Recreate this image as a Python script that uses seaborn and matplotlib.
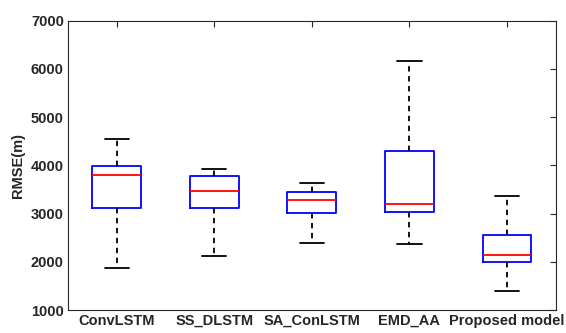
import matplotlib
matplotlib.use("Agg")
import matplotlib.pyplot as plt
import seaborn as sns
import pandas as pd

models = ["ConvLSTM", "SS_DLSTM", "SA_ConLSTM", "EMD_AA", "Proposed model"]
# five-number summaries: [lower whisker, Q1, median, Q3, upper whisker]
conv_lstm = [1876, 3117, 3800, 3988, 4552]
ss_dlstm = [2117, 3117, 3477, 3787, 3932]
sa_conlstm = [2386, 3021, 3283, 3456, 3628]
emd_aa = [2366, 3034, 3193, 4290, 6158]
proposed = [1386, 1986, 2145, 2558, 3365]
yticks = [1000, 2000, 3000, 4000, 5000, 6000, 7000]

series = [conv_lstm, ss_dlstm, sa_conlstm, emd_aa, proposed]
df = pd.DataFrame({
    "model": [m for m, s in zip(models, series) for _ in s],
    "rmse": [v for s in series for v in s],
})

sns.set_style("white")
plt.rcParams["font.family"] = ["Liberation Sans", "DejaVu Sans"]
plt.rcParams["font.weight"] = "bold"

fig = plt.figure(figsize=(5.66, 3.33), dpi=100)
ax = fig.add_axes([0.120, 0.069, 0.862, 0.869])

sns.boxplot(
    data=df, x="model", y="rmse", order=models, ax=ax,
    width=0.5, whis=(0, 100), fill=False, showfliers=False,
    boxprops=dict(color="#0000ff", linewidth=1.3),
    medianprops=dict(color="#ff0000", linewidth=1.3),
    whiskerprops=dict(color="black", linewidth=1.3, linestyle=(0, (3, 2.5))),
    capprops=dict(color="black", linewidth=1.3),
)

ax.set_xlim(-0.5, 4.5)
ax.set_ylim(1000, 7000)
ax.set_yticks(yticks)
ax.set_yticklabels([str(t) for t in yticks], fontsize=10.5, fontweight="bold")
ax.set_xticks(range(len(models)))
ax.set_xticklabels(models, fontsize=10.5, fontweight="bold")
ax.set_xlabel("")
ax.set_ylabel("RMSE(m)", fontsize=10.5, fontweight="bold")
ax.tick_params(direction="in", length=4, width=0.8, top=True, right=True,
               color="#262626", labelcolor="#262626", pad=3)
for sp in ax.spines.values():
    sp.set_visible(True)
    sp.set_color("#262626")
    sp.set_linewidth(0.8)

fig.savefig("out.png", dpi=100)
